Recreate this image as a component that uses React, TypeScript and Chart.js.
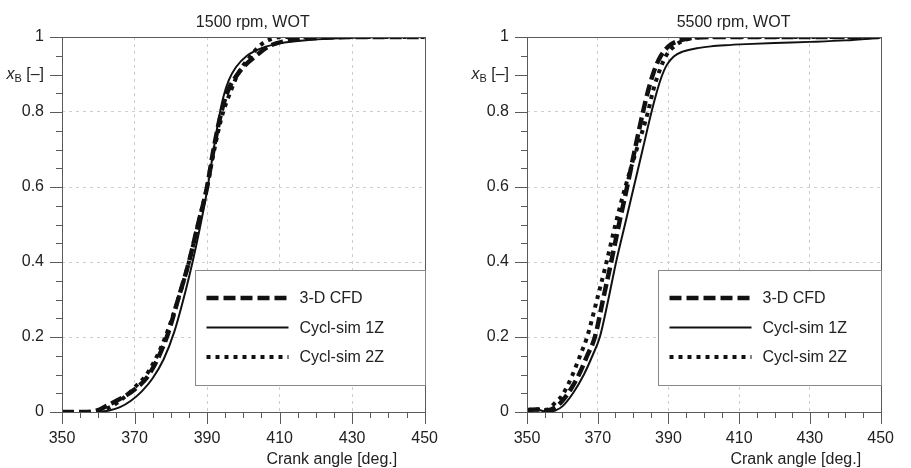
import React, { useEffect, useRef } from 'react';
import { Chart, registerables } from 'chart.js';

Chart.register(...registerables);

const FONT = '"Liberation Sans", Arial, Helvetica, sans-serif';

// ---------- data ----------
const seriesLabels = ['3-D CFD', 'Cycl-sim 1Z', 'Cycl-sim 2Z'];
const panelTitles = ['1500 rpm, WOT', '5500 rpm, WOT'];
const xAxisTitle = 'Crank angle [deg.]';
const yAxisTitle = ['x', 'B', ' [\u2013]'];

// 1500 rpm
const cfd1500Angle = [350, 356, 360, 363, 366, 370, 374, 378.9, 382, 385, 387.5, 390, 391.5, 393, 394.5, 396, 398, 400, 403.5, 407, 411, 416, 422, 430, 450];
const cfd1500Xb = [0, 0, 0.005, 0.02, 0.035, 0.06, 0.1, 0.2, 0.3, 0.4, 0.5, 0.6, 0.685, 0.76, 0.82, 0.862, 0.895, 0.92, 0.95, 0.975, 0.988, 0.995, 0.998, 1, 1];
const oneZ1500Angle = [360, 363, 366, 369, 372, 375, 378, 381, 384, 386, 388, 390, 391.5, 393, 394.5, 396, 398, 401, 405, 410, 418, 430, 445, 450];
const oneZ1500Xb = [0, 0.004, 0.013, 0.03, 0.055, 0.09, 0.14, 0.215, 0.32, 0.4, 0.49, 0.59, 0.68, 0.77, 0.84, 0.885, 0.92, 0.95, 0.97, 0.983, 0.992, 0.998, 1, 1];
const twoZ1500Angle = [360, 363, 366, 370, 374, 378.5, 382, 385, 387.5, 390, 392, 394, 396.5, 399, 401.7, 404, 406, 408.5, 411, 450];
const twoZ1500Xb = [0, 0.012, 0.03, 0.065, 0.11, 0.2, 0.3, 0.4, 0.5, 0.6, 0.7, 0.785, 0.855, 0.91, 0.945, 0.972, 0.987, 0.997, 1, 1];

// 5500 rpm
const cfd5500Angle = [350, 353, 355.5, 358, 360, 362, 364.7, 367, 369.2, 371.5, 373.8, 376, 378.3, 380.5, 382.8, 384.2, 385.6, 387.4, 390, 393, 397, 402, 450];
const cfd5500Xb = [0.005, 0.007, 0.004, 0.012, 0.03, 0.055, 0.1, 0.15, 0.2, 0.3, 0.4, 0.5, 0.6, 0.7, 0.8, 0.855, 0.9, 0.942, 0.975, 0.99, 0.998, 1, 1];
const oneZ5500Angle = [350, 353, 355.5, 358, 360, 363, 366.1, 368.5, 370.6, 373, 375.2, 377.7, 380.2, 382.7, 385.2, 386.6, 387.9, 389.5, 391.5, 394, 398, 402, 406, 412, 420, 430, 440, 450];
const oneZ5500Xb = [0.005, 0.006, 0.001, 0.004, 0.015, 0.05, 0.1, 0.15, 0.2, 0.3, 0.4, 0.5, 0.6, 0.7, 0.8, 0.85, 0.89, 0.925, 0.948, 0.961, 0.97, 0.975, 0.978, 0.981, 0.984, 0.987, 0.991, 0.998];
const twoZ5500Angle = [350, 353, 355.5, 358, 360, 362.9, 365, 367, 369.8, 372.5, 375, 377.8, 381, 384.2, 385.6, 386.9, 389.2, 392, 395, 400, 450];
const twoZ5500Xb = [0.005, 0.007, 0.006, 0.025, 0.045, 0.1, 0.15, 0.2, 0.3, 0.4, 0.5, 0.6, 0.7, 0.8, 0.855, 0.895, 0.948, 0.978, 0.993, 1, 1];

const xMin = 350;
const xMax = 450;
const xStep = 5;
const xLabelStep = 20;
const yMin = 0;
const yMax = 1;
const yStep = 0.05;

// ---------- styles ----------
const lineStyles = [
  { borderWidth: 4.5, borderDash: [12, 5] },
  { borderWidth: 2, borderDash: [] as number[] },
  { borderWidth: 4, borderDash: [4, 5] },
];

const pts = (xs: number[], ys: number[]) => xs.map((x, i) => ({ x, y: ys[i] }));

const decorPlugin = {
  id: 'decor',
  afterDraw(chart: any, _args: any, opts: any) {
    const { ctx, chartArea: a, scales } = chart;
    const xs = scales.x;
    const ys = scales.y;
    const w = a.right - a.left;
    const h = a.bottom - a.top;
    ctx.save();
    // frame
    ctx.strokeStyle = '#5a5a5a';
    ctx.lineWidth = 1;
    ctx.setLineDash([]);
    ctx.strokeRect(Math.round(a.left) + 0.5, Math.round(a.top) + 0.5, Math.round(w), Math.round(h));
    // y ticks
    ys.ticks.forEach((t: any) => {
      const r = Math.round(t.value * 100);
      const major = r % 20 === 0 || r === 90;
      const py = Math.round(ys.getPixelForValue(t.value)) + 0.5;
      ctx.beginPath();
      ctx.moveTo(a.left - (major ? 12 : 6), py);
      ctx.lineTo(a.left, py);
      ctx.stroke();
    });
    // x ticks
    xs.ticks.forEach((t: any) => {
      const major = Math.round(t.value - xMin) % xLabelStep === 0;
      const px = Math.round(xs.getPixelForValue(t.value)) + 0.5;
      ctx.beginPath();
      ctx.moveTo(px, a.bottom);
      ctx.lineTo(px, a.bottom + (major ? 12 : 6));
      ctx.stroke();
    });
    // title
    ctx.fillStyle = '#222';
    ctx.font = `16px ${FONT}`;
    ctx.textAlign = 'center';
    ctx.textBaseline = 'alphabetic';
    ctx.fillText(opts.title, a.left + opts.titleFrac * w, 27);
    // x axis title
    ctx.fillText(xAxisTitle, a.left + opts.xTitleFrac * w, 464);
    // y axis label x_B [–]
    const yPix = ys.getPixelForValue(0.9);
    const right = a.left - 18;
    ctx.textAlign = 'left';
    ctx.textBaseline = 'middle';
    ctx.font = `italic 16px ${FONT}`;
    const wx = ctx.measureText(yAxisTitle[0]).width;
    ctx.font = `11px ${FONT}`;
    const wb = ctx.measureText(yAxisTitle[1]).width;
    ctx.font = `16px ${FONT}`;
    const wr = ctx.measureText(yAxisTitle[2]).width;
    let sx = right - wx - wb - wr;
    ctx.font = `italic 16px ${FONT}`;
    ctx.fillText(yAxisTitle[0], sx, yPix);
    sx += wx;
    ctx.font = `11px ${FONT}`;
    ctx.fillText(yAxisTitle[1], sx, yPix + 4);
    sx += wb;
    ctx.font = `16px ${FONT}`;
    ctx.fillText(yAxisTitle[2], sx, yPix);
    // legend
    const lx = Math.round(a.left + opts.legendLeftFrac * w) + 0.5;
    const ly = Math.round(a.top + 0.621 * h) + 0.5;
    const lb = Math.round(a.top + 0.928 * h) + 0.5;
    const lr = Math.round(a.right) + 0.5;
    ctx.fillStyle = '#fff';
    ctx.fillRect(lx, ly, lr - lx, lb - ly);
    ctx.strokeStyle = '#888';
    ctx.lineWidth = 1;
    ctx.strokeRect(lx, ly, lr - lx, lb - ly);
    const rowOffsets = [27.5, 57, 86.5];
    chart.data.datasets.forEach((ds: any, i: number) => {
      const ry = ly + rowOffsets[i];
      ctx.save();
      ctx.strokeStyle = '#111';
      ctx.lineWidth = ds.borderWidth;
      ctx.setLineDash(ds.borderDash || []);
      ctx.lineCap = 'butt';
      ctx.beginPath();
      ctx.moveTo(lx + 11, ry);
      ctx.lineTo(lx + 93, ry);
      ctx.stroke();
      ctx.restore();
      ctx.fillStyle = '#222';
      ctx.font = `16px ${FONT}`;
      ctx.textAlign = 'left';
      ctx.textBaseline = 'middle';
      ctx.fillText(ds.label, lx + 104, ry + 1);
    });
    ctx.restore();
  },
};

type PanelProps = {
  left: number;
  width: number;
  yAxisWidth: number;
  padRight: number;
  title: string;
  titleFrac: number;
  xTitleFrac: number;
  legendLeftFrac: number;
  series: { x: number[]; y: number[] }[];
};

function Panel(p: PanelProps) {
  const ref = useRef<HTMLCanvasElement>(null);
  useEffect(() => {
    const chart = new Chart(ref.current as HTMLCanvasElement, {
      type: 'line',
      data: {
        datasets: p.series.map((s, i) => ({
          label: seriesLabels[i],
          data: pts(s.x, s.y),
          borderColor: '#111',
          borderWidth: lineStyles[i].borderWidth,
          borderDash: lineStyles[i].borderDash,
          borderCapStyle: 'butt',
          pointRadius: 0,
          fill: false,
          cubicInterpolationMode: 'monotone',
        })),
      },
      options: {
        responsive: false,
        animation: false,
        devicePixelRatio: 1,
        layout: { padding: { left: 0, right: p.padRight, top: 37, bottom: 0 } },
        plugins: {
          legend: { display: false },
          tooltip: { enabled: false },
          title: { display: false },
          decor: { title: p.title, titleFrac: p.titleFrac, xTitleFrac: p.xTitleFrac, legendLeftFrac: p.legendLeftFrac },
        } as any,
        scales: {
          x: {
            type: 'linear',
            min: xMin,
            max: xMax,
            afterFit: (s: any) => { s.height = 56; },
            ticks: {
              stepSize: xStep,
              autoSkip: false,
              maxRotation: 0,
              padding: 17,
              color: '#222',
              font: { family: FONT, size: 16 },
              callback: (v: any) => (Math.round(v - xMin) % xLabelStep === 0 ? String(v) : ''),
            },
            grid: {
              drawTicks: false,
              color: (c: any) => {
                const v = c.tick ? c.tick.value : 0;
                return v > xMin && v < xMax && Math.round(v - xMin) % xLabelStep === 0 ? '#cdcdcd' : 'rgba(0,0,0,0)';
              },
              lineWidth: 1,
            },
            border: { display: false, dash: [3, 4] },
          },
          y: {
            type: 'linear',
            min: yMin,
            max: yMax,
            afterFit: (s: any) => { s.width = p.yAxisWidth; },
            ticks: {
              stepSize: yStep,
              autoSkip: false,
              padding: 18,
              color: '#222',
              font: { family: FONT, size: 16 },
              callback: (v: any) => {
                const r = Math.round(v * 100);
                if (r % 20 !== 0) return '';
                if (r === 0) return '0';
                if (r === 100) return '1';
                return (r / 100).toFixed(1);
              },
            },
            grid: {
              drawTicks: false,
              color: (c: any) => {
                const r = c.tick ? Math.round(c.tick.value * 100) : 0;
                return r > 0 && r < 100 && r % 20 === 0 ? '#cdcdcd' : 'rgba(0,0,0,0)';
              },
              lineWidth: 1,
            },
            border: { display: false, dash: [3, 4] },
          },
        },
      } as any,
      plugins: [decorPlugin],
    });
    return () => chart.destroy();
  }, []);
  return (
    <div style={{ position: 'absolute', left: p.left, top: 0, width: p.width, height: 468 }}>
      <canvas ref={ref} width={p.width} height={468} style={{ display: 'block' }} />
    </div>
  );
}

export default function App() {
  return (
    <div style={{ position: 'absolute', left: 0, top: 0, width: 911, height: 468, background: '#fff' }}>
      <Panel
        left={0}
        width={455}
        yAxisWidth={62}
        padRight={26}
        title={panelTitles[0]}
        titleFrac={0.526}
        xTitleFrac={0.744}
        legendLeftFrac={0.368}
        series={[
          { x: cfd1500Angle, y: cfd1500Xb },
          { x: oneZ1500Angle, y: oneZ1500Xb },
          { x: twoZ1500Angle, y: twoZ1500Xb },
        ]}
      />
      <Panel
        left={455}
        width={456}
        yAxisWidth={72}
        padRight={16}
        title={panelTitles[1]}
        titleFrac={0.584}
        xTitleFrac={0.76}
        legendLeftFrac={0.37}
        series={[
          { x: cfd5500Angle, y: cfd5500Xb },
          { x: oneZ5500Angle, y: oneZ5500Xb },
          { x: twoZ5500Angle, y: twoZ5500Xb },
        ]}
      />
    </div>
  );
}
